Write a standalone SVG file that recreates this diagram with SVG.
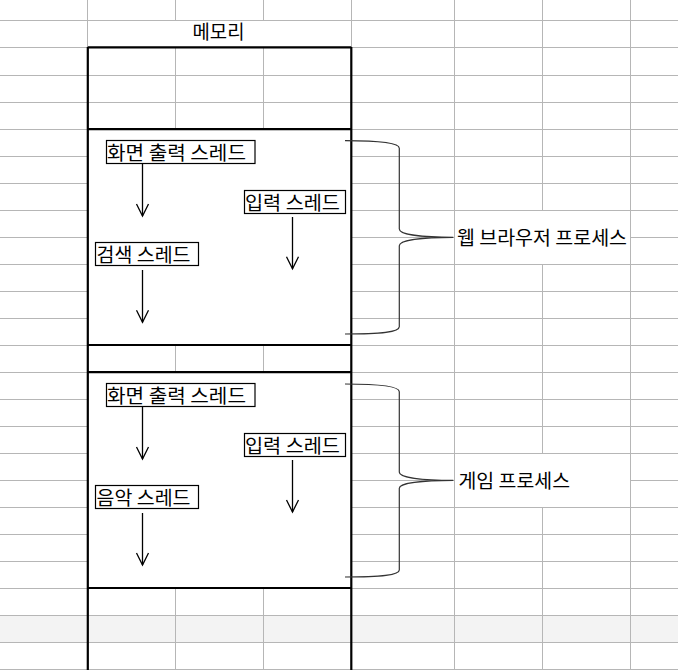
<svg xmlns="http://www.w3.org/2000/svg" width="678" height="670" viewBox="0 0 678 670">
<style>
.grid{stroke:#b6b6b6;stroke-width:1;fill:none}
.thick{stroke:#000;stroke-width:2.2;fill:none}
.box{fill:#fff;stroke:#000;stroke-width:1.2}
.t{font-family:"Noto Sans CJK KR","Noto Sans",sans-serif;font-size:19px;fill:#000}
.arrow{stroke:#000;stroke-width:1.3;fill:none}
.brace{stroke:#333;stroke-width:1.2;fill:none}
.cover{fill:#fff}
</style>
<defs>
<marker id="ah" markerUnits="userSpaceOnUse" markerWidth="16" markerHeight="16" refX="13" refY="7" orient="auto">
<path d="M1,1 L13,7 L1,13" fill="none" stroke="#000" stroke-width="1.3"/>
</marker>
</defs>
<rect x="0" y="0" width="678" height="670" fill="#fff"/>
<rect x="0" y="615.5" width="678" height="27" fill="#f3f3f3"/>
<g id="gridlines" class="grid">
<path d="M87.5,0V670M175.5,0V670M263.5,0V670M351.5,0V670M454.5,0V670M542.5,0V670M630.5,0V670"/>
<path d="M0,20.5H678M0,47.5H678M0,75.5H678M0,102.5H678M0,129.5H678M0,156.5H678M0,183.5H678M0,210.5H678M0,237.5H678M0,264.5H678M0,291.5H678M0,318.5H678M0,345.5H678M0,372.5H678M0,399.5H678M0,426.5H678M0,453.5H678M0,480.5H678M0,507.5H678M0,534.5H678M0,561.5H678M0,588.5H678M0,615.5H678M0,642.5H678M0,669.5H678"/>
</g>
<g id="covers">
<rect class="cover" x="88" y="21" width="263" height="26"/>
<rect class="cover" x="88" y="130" width="263" height="215"/>
<rect class="cover" x="88" y="373" width="263" height="215"/>
<rect class="cover" x="455" y="211" width="175" height="53"/>
<rect class="cover" x="455" y="454" width="175" height="53"/>
</g>
<g id="memory">
<text class="t" x="192.5" y="38.5" textLength="52" lengthAdjust="spacingAndGlyphs">메모리</text>
<path class="thick" d="M87.8,47V670M351.3,47V670M87.8,47.3H351.3M87.8,129.2H351.3M87.8,345H351.3M87.8,372.2H351.3M87.8,588H351.3"/>
</g>
<g id="web-render">
<rect class="box" x="106.5" y="140.5" width="148.5" height="23"/>
<text class="t" x="107" y="160.4" textLength="139" lengthAdjust="spacingAndGlyphs">화면 출력 스레드</text>
</g>
<g id="web-input">
<rect class="box" x="244.5" y="190.5" width="101" height="23"/>
<text class="t" x="245" y="210.4" textLength="95" lengthAdjust="spacingAndGlyphs">입력 스레드</text>
</g>
<g id="web-search">
<rect class="box" x="95.5" y="242.5" width="103" height="23"/>
<text class="t" x="96.5" y="262.4" textLength="94" lengthAdjust="spacingAndGlyphs">검색 스레드</text>
</g>
<g id="game-render">
<rect class="box" x="106.5" y="383.5" width="148.5" height="23"/>
<text class="t" x="107" y="403.4" textLength="139" lengthAdjust="spacingAndGlyphs">화면 출력 스레드</text>
</g>
<g id="game-input">
<rect class="box" x="244.5" y="433.5" width="101" height="23"/>
<text class="t" x="245" y="453.4" textLength="95" lengthAdjust="spacingAndGlyphs">입력 스레드</text>
</g>
<g id="game-music">
<rect class="box" x="95.5" y="485.5" width="103" height="23"/>
<text class="t" x="96.5" y="505.4" textLength="94" lengthAdjust="spacingAndGlyphs">음악 스레드</text>
</g>
<g id="web-process">
<text class="t" x="457" y="244.5" textLength="170" lengthAdjust="spacingAndGlyphs">웹 브라우저 프로세스</text>
</g>
<g id="game-process">
<text class="t" x="458.5" y="487.5" textLength="111.5" lengthAdjust="spacingAndGlyphs">게임 프로세스</text>
</g>
<g id="connectors">
<path class="arrow" marker-end="url(#ah)" d="M142.5,164V216"/>
<path class="arrow" marker-end="url(#ah)" d="M292.5,217V268.7"/>
<path class="arrow" marker-end="url(#ah)" d="M142.5,270V322.3"/>
<path class="arrow" marker-end="url(#ah)" d="M142.5,407V459"/>
<path class="arrow" marker-end="url(#ah)" d="M292.5,460V512"/>
<path class="arrow" marker-end="url(#ah)" d="M142.5,513V565"/>
<path class="brace" d="M345,140.7C382,140.7 399.3,143 399.3,148.3L399.3,229C399.3,234.5 422,237.3 453.3,237.3C422,237.3 399.3,240 399.3,245.7L399.3,326.7C399.3,332 382,334 345,334"/>
<path class="brace" d="M345,384C382,384 399.3,386.5 399.3,391.7L399.3,472.3C399.3,477.5 422,480.3 453.3,480.3C422,480.3 399.3,483 399.3,488.3L399.3,570C399.3,575 382,577 345,577"/>
</g>
</svg>
